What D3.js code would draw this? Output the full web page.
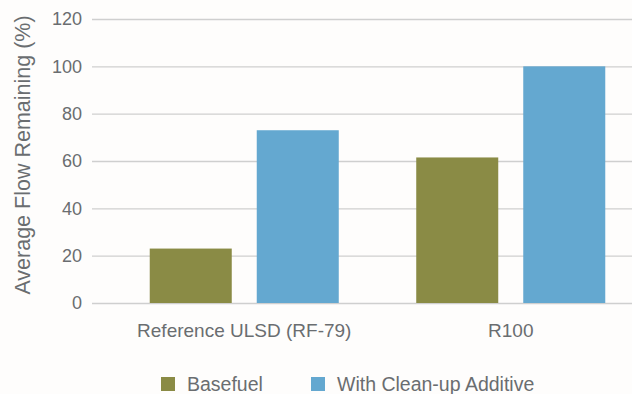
<!DOCTYPE html>
<html>
<head>
<meta charset="utf-8">
<script src="https://cdn.jsdelivr.net/npm/d3@7"></script>
<style>
  html, body { margin: 0; padding: 0; background: #fefdfc; }
  svg { display: block; }
</style>
</head>
<body>
<svg id="chart" width="632" height="394"></svg>
<script>
// Fuel groups along the x axis
const categories = ["Reference ULSD (RF-79)", "R100"];
// Series: average flow remaining (%)
const seriesNames = ["Basefuel", "With Clean-up Additive"];
const basefuel = [23, 61.5];
const withAdditive = [73, 100];
const yTicks = [0, 20, 40, 60, 80, 100, 120];

const colors = ["#8a8b45", "#64a8d0"];
const textColor = "#6a6d70";
const font = "'Liberation Sans', Arial, Helvetica, sans-serif";

const svg = d3.select("#chart");

const gridLeft = 92, gridRight = 632;
const y = d3.scaleLinear().domain([0, 120]).range([303, 19]);

const x0 = d3.scaleBand().domain(categories).range([111, 644]);
const x1 = d3.scaleBand().domain(seriesNames).range([0, x0.bandwidth()])
  .paddingInner(0.2336).paddingOuter(0.362);

// Horizontal gridlines
svg.append("g").selectAll("line").data(yTicks).join("line")
  .attr("x1", gridLeft).attr("x2", gridRight)
  .attr("y1", d => y(d) + 0.5).attr("y2", d => y(d) + 0.5)
  .attr("stroke", "#cfcfcf").attr("stroke-width", 1.3);

// Y axis tick labels
const yAxis = svg.append("g")
  .attr("transform", `translate(${gridLeft - 10},0)`)
  .call(d3.axisLeft(y).tickValues(yTicks).tickSize(0).tickPadding(0));
yAxis.select(".domain").remove();
yAxis.selectAll("text")
  .attr("fill", textColor).style("font-family", font).style("font-size", "18px");

// Grouped bars
const rows = categories.map((c, i) => ({ cat: c, vals: [basefuel[i], withAdditive[i]] }));
svg.append("g").selectAll("g").data(rows).join("g")
  .attr("transform", d => `translate(${x0(d.cat)},0)`)
  .selectAll("rect").data(d => d.vals.map((v, j) => ({ name: seriesNames[j], v, j })))
  .join("rect")
  .attr("x", d => x1(d.name))
  .attr("width", x1.bandwidth())
  .attr("y", d => y(d.v))
  .attr("height", d => y(0) - y(d.v))
  .attr("fill", d => colors[d.j]);

// Category labels
const xAxis = svg.append("g")
  .attr("transform", `translate(0,${y(0)})`)
  .call(d3.axisBottom(x0).tickSize(0).tickPadding(21));
xAxis.select(".domain").remove();
xAxis.selectAll("text")
  .attr("fill", textColor).style("font-family", font).style("font-size", "19px");

// Y axis title
svg.append("text")
  .attr("transform", `translate(30,155) rotate(-90)`)
  .attr("text-anchor", "middle")
  .attr("fill", textColor).style("font-family", font).style("font-size", "21.5px")
  .text("Average Flow Remaining (%)");

// Legend
const legendItems = [
  { name: seriesNames[0], color: colors[0], x: 161 },
  { name: seriesNames[1], color: colors[1], x: 311 }
];
const lg = svg.append("g").selectAll("g").data(legendItems).join("g")
  .attr("transform", d => `translate(${d.x},377)`);
lg.append("rect").attr("width", 14).attr("height", 14).attr("fill", d => d.color);
lg.append("text").attr("x", 26).attr("y", 13.5)
  .attr("fill", textColor).style("font-family", font).style("font-size", "19.5px")
  .text(d => d.name);
</script>
</body>
</html>
